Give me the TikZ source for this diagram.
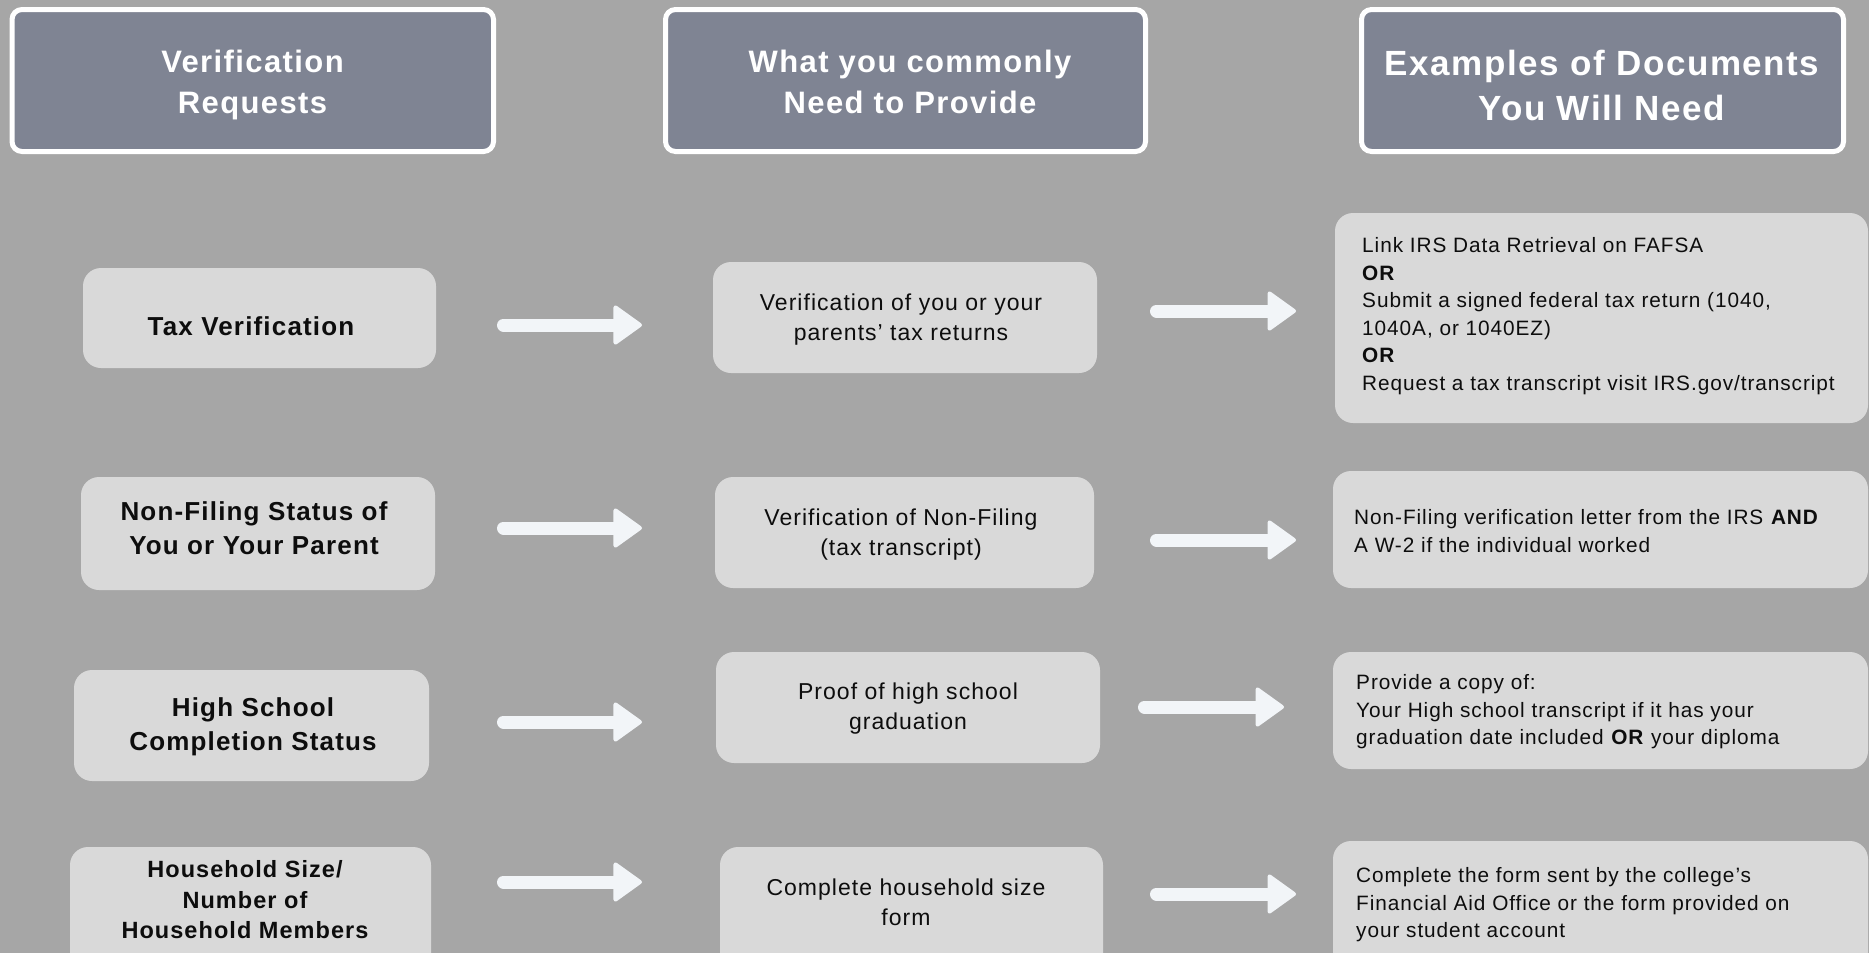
\documentclass[tikz,border=0pt]{standalone}
\usepackage{fontspec}
\setmainfont{Liberation Sans}
\newfontfamily\spfont{Liberation Sans}[LetterSpace=4.5]
\usetikzlibrary{arrows.meta}
\definecolor{bgc}{HTML}{A6A6A6}
\definecolor{hdc}{HTML}{7F8493}
\definecolor{boxc}{HTML}{D9D9D9}
\definecolor{arrc}{HTML}{F2F5F8}
\definecolor{txc}{HTML}{0D0D0D}
\tikzset{
  hdr/.style={draw=white, line width=5pt, fill=hdc, rounded corners=10pt, inner sep=0pt},
  cbox/.style={fill=boxc, rounded corners=18pt, inner sep=0pt},
  htext/.style={font=\spfont\bfseries\fontsize{31}{41}\selectfont, align=center, inner sep=0pt, text=white, anchor=north},
  htextb/.style={font=\spfont\bfseries\fontsize{35}{45}\selectfont, align=center, inner sep=0pt, text=white, anchor=north},
  ltext/.style={font=\spfont\bfseries\fontsize{26}{34}\selectfont, align=center, inner sep=0pt, text=txc, anchor=north},
  mtext/.style={font=\spfont\fontsize{23}{30}\selectfont, align=center, inner sep=0pt, text=txc, anchor=north},
  rtext/.style={font=\spfont\fontsize{20.8}{27.5}\selectfont, align=left, inner sep=0pt, text=txc, anchor=north west},
  flow/.style={draw=arrc, line width=13pt, line cap=round, -{Triangle[length=30pt,width=42pt,round,line width=4pt]}}
}
\begin{document}
\begin{tikzpicture}[x=1pt,y=-1pt]
\clip (0,0) rectangle (1869,953);
\fill[bgc] (0,0) rectangle (1869,953);
% headers
\node[hdr, minimum width=481.5pt, minimum height=142pt] (h1) at (252.75,80.5) {};
\node[hdr, minimum width=480pt, minimum height=142pt] (h2) at (905.5,80.5) {};
\node[hdr, minimum width=482pt, minimum height=142pt] (h3) at (1602.5,80.5) {};
\node[htext] (th1) at (252.5,49.5) {Verification\\Requests};
\node[htext] (th2) at (910,49.5) {What you commonly\\Need to Provide};
\node[htextb] (th3) at (1602,49.5) {Examples of Documents\\You Will Need};
% boxes
\node[cbox, minimum width=353pt, minimum height=100pt] (l1) at (259.5,318) {};
\node[cbox, minimum width=354pt, minimum height=113pt] (l2) at (258,533.5) {};
\node[cbox, minimum width=355pt, minimum height=111pt] (l3) at (251.5,725.5) {};
\node[cbox, minimum width=361pt, minimum height=128pt] (l4) at (250.5,911) {};
\node[cbox, minimum width=384pt, minimum height=111pt] (m1) at (905,317.5) {};
\node[cbox, minimum width=379pt, minimum height=111pt] (m2) at (904.5,532.5) {};
\node[cbox, minimum width=384pt, minimum height=111pt] (m3) at (908,707.5) {};
\node[cbox, minimum width=383pt, minimum height=128pt] (m4) at (911.5,911) {};
\node[cbox, minimum width=533pt, minimum height=210pt] (r1) at (1601.5,318) {};
\node[cbox, minimum width=535pt, minimum height=117pt] (r2) at (1600.5,529.5) {};
\node[cbox, minimum width=535pt, minimum height=117pt] (r3) at (1600.5,710.5) {};
\node[cbox, minimum width=535pt, minimum height=134pt] (r4) at (1600.5,908) {};
% texts
\node[ltext] (tl1) at (251,316.5) {Tax Verification};
\node[ltext] (tl2) at (254,501.5) {Non-Filing Status of\\You or Your Parent};
\node[ltext] (tl3) at (253,697.5) {High School\\Completion Status};
\node[ltext, font=\spfont\bfseries\fontsize{23.5}{30.5}\selectfont] (tl4) at (245,860.5) {Household Size/\\Number of\\Household Members};
\node[mtext] (tm1) at (901,293.5) {Verification of you or your\\parents’ tax returns};
\node[mtext] (tm2) at (901,508.5) {Verification of Non-Filing\\(tax transcript)};
\node[mtext] (tm3) at (908,682.5) {Proof of high school\\graduation};
\node[mtext] (tm4) at (906,878.5) {Complete household size\\form};
\node[rtext] (tr1) at (1362,237.5) {Link IRS Data Retrieval on FAFSA\\\textbf{OR}\\Submit a signed federal tax return (1040,\\1040A, or 1040EZ)\\\textbf{OR}\\Request a tax transcript visit IRS.gov/transcript};
\node[rtext] (tr2) at (1354,509.5) {Non-Filing verification letter from the IRS \textbf{AND}\\A W-2 if the individual worked};
\node[rtext] (tr3) at (1356,674.5) {Provide a copy of:\\Your High school transcript if it has your\\graduation date included \textbf{OR} your diploma};
\node[rtext] (tr4) at (1356,867.5) {Complete the form sent by the college’s\\Financial Aid Office or the form provided on\\your student account};
% arrow end points
\coordinate (a1s) at (503.5,325);  \coordinate (a1e) at (642,325);
\coordinate (b1s) at (1156.5,311); \coordinate (b1e) at (1296,311);
\coordinate (a2s) at (503.5,528);  \coordinate (a2e) at (642,528);
\coordinate (b2s) at (1156.5,540); \coordinate (b2e) at (1296,540);
\coordinate (a3s) at (503.5,722);  \coordinate (a3e) at (642,722);
\coordinate (b3s) at (1144.5,707); \coordinate (b3e) at (1284,707);
\coordinate (a4s) at (503.5,882);  \coordinate (a4e) at (642,882);
\coordinate (b4s) at (1156.5,894); \coordinate (b4e) at (1296,894);
\draw[flow] (a1s) -- (a1e);
\draw[flow] (b1s) -- (b1e);
\draw[flow] (a2s) -- (a2e);
\draw[flow] (b2s) -- (b2e);
\draw[flow] (a3s) -- (a3e);
\draw[flow] (b3s) -- (b3e);
\draw[flow] (a4s) -- (a4e);
\draw[flow] (b4s) -- (b4e);
\end{tikzpicture}
\end{document}
